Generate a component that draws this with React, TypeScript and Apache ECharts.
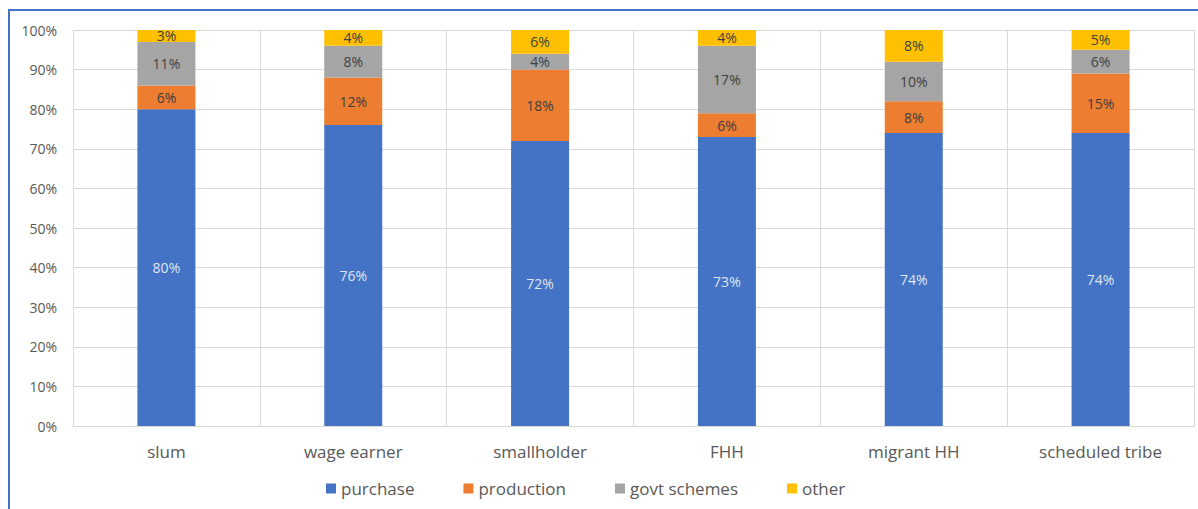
import React, { useEffect, useRef } from "react";
import * as echarts from "echarts";

const categories = ["slum", "wage earner", "smallholder", "FHH", "migrant HH", "scheduled tribe"];
const purchase = [80, 76, 72, 73, 74, 74];
const production = [6, 12, 18, 6, 8, 15];
const govtSchemes = [11, 8, 4, 17, 10, 6];
const other = [3, 4, 6, 4, 8, 5];
const yTicks = [0, 10, 20, 30, 40, 50, 60, 70, 80, 90, 100];

const FONT = "'Open Sans', sans-serif";

export default function App() {
  const ref = useRef<HTMLDivElement>(null);
  useEffect(() => {
    document.body.style.margin = "0";
    const chart = echarts.init(ref.current!, null, { renderer: "svg" });
    const mk = (name: string, data: number[], color: string, labelColor: string) => ({
      name,
      type: "bar",
      stack: "total",
      data,
      barWidth: 58,
      itemStyle: { color },
      label: {
        show: true,
        position: "inside",
        formatter: "{c}%",
        color: labelColor,
        fontSize: 14,
        fontFamily: FONT,
      },
    });
    chart.setOption({
      animation: false,
      textStyle: { fontFamily: FONT },
      graphic: [
        {
          type: "rect",
          shape: { x: 9, y: 10, width: 1300, height: 600 },
          style: { fill: "none", stroke: "#4472C4", lineWidth: 2 },
          silent: true,
        },
      ],
      grid: { left: 73, right: 4, top: 30, bottom: 83, containLabel: false },
      legend: {
        bottom: 7,
        left: 321,
        itemWidth: 10,
        itemHeight: 10,
        itemGap: 49,
        icon: "rect",
        textStyle: { color: "#595959", fontSize: 17, fontFamily: FONT },
        data: ["purchase", "production", "govt schemes", "other"],
      },
      xAxis: {
        type: "category",
        data: categories,
        axisLine: { lineStyle: { color: "#d9d9d9" } },
        axisTick: { show: false },
        splitLine: { show: true, lineStyle: { color: "#d9d9d9" } },
        axisLabel: { color: "#595959", fontSize: 17, margin: 17, fontFamily: FONT },
      },
      yAxis: {
        type: "value",
        min: yTicks[0],
        max: yTicks[yTicks.length - 1],
        interval: 10,
        axisLine: { show: false },
        axisTick: { show: false },
        splitLine: { lineStyle: { color: "#d9d9d9" } },
        axisLabel: { color: "#595959", fontSize: 14, formatter: "{value}%", margin: 16, fontFamily: FONT },
      },
      series: [
        mk("purchase", purchase, "#4472C4", "#dfe6f4"),
        mk("production", production, "#ED7D31", "#404040"),
        mk("govt schemes", govtSchemes, "#A5A5A5", "#404040"),
        mk("other", other, "#FFC000", "#404040"),
      ],
    });
    return () => chart.dispose();
  }, []);
  return <div ref={ref} style={{ width: 1198, height: 509 }} />;
}
